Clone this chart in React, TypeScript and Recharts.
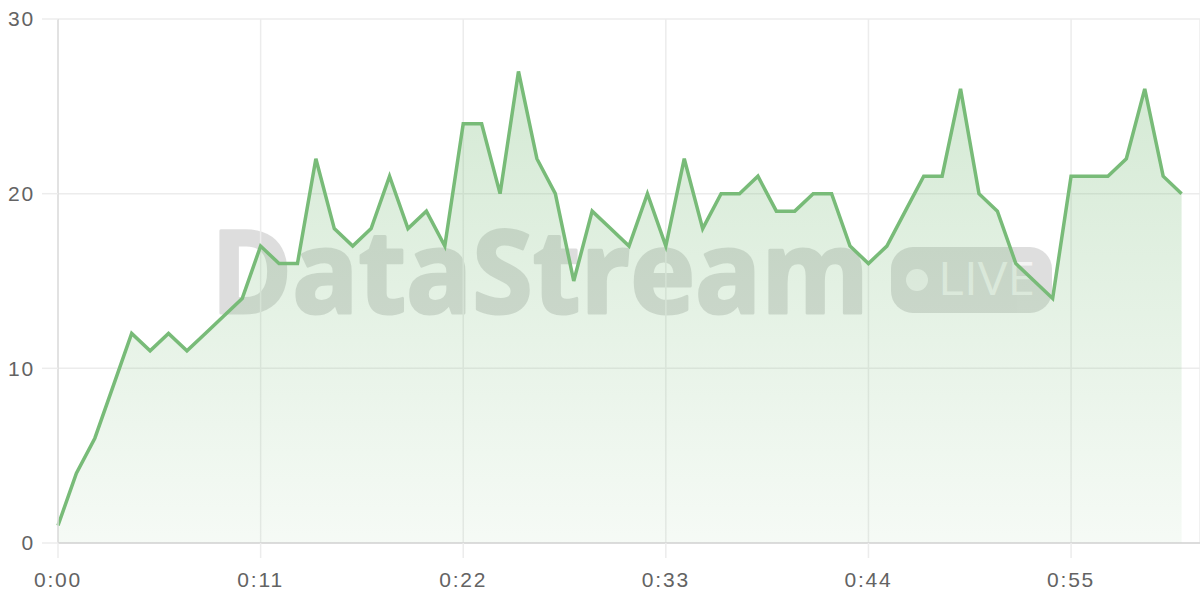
import { AreaChart, Area, XAxis, YAxis, CartesianGrid } from 'recharts';

// seconds since start, one reading per second
const seconds: number[] = [
    0, 1, 2, 3, 4, 5, 6, 7, 8, 9,
    10, 11, 12, 13, 14, 15, 16, 17, 18, 19,
    20, 21, 22, 23, 24, 25, 26, 27, 28, 29,
    30, 31, 32, 33, 34, 35, 36, 37, 38, 39,
    40, 41, 42, 43, 44, 45, 46, 47, 48, 49,
    50, 51, 52, 53, 54, 55, 56, 57, 58, 59,
    60, 61,
];

const values: number[] = [
    1, 4, 6, 9, 12, 11, 12, 11, 12, 13,
    14, 17, 16, 16, 22, 18, 17, 18, 21, 18,
    19, 17, 24, 24, 20, 27, 22, 20, 15, 19,
    18, 17, 20, 17, 22, 18, 20, 20, 21, 19,
    19, 20, 20, 17, 16, 17, 19, 21, 21, 26,
    20, 19, 16, 15, 14, 21, 21, 21, 22, 26,
    21, 20,
];

const xTicks: number[] = [0, 11, 22, 33, 44, 55];
const yTicks: number[] = [0, 10, 20, 30];

const data = seconds.map((t, i) => ({ t, value: values[i] }));

const fmtTime = (s: number) => `${Math.floor(s / 60)}:${String(s % 60).padStart(2, '0')}`;

const GREEN = '#78bb78';
const tickStyle = {
    fontFamily: 'Liberation Sans, Arial, sans-serif',
    fontSize: 21,
    fill: '#636363',
    letterSpacing: 1.8,
};

const Watermark = () => (
    <svg width={1200} height={600} style={{ position: 'absolute', left: 0, top: 0 }}>
        <g opacity={0.13}>
            <text
                x={211}
                y={313}
                textLength={658}
                lengthAdjust="spacingAndGlyphs"
                fontFamily="Open Sans, sans-serif"
                fontWeight={700}
                fontSize={114}
                fill="#000"
                stroke="#000"
                strokeWidth={3}
                strokeLinejoin="round"
            >
                DataStream
            </text>
            <rect x={891} y={247} width={161} height={66} rx={22} fill="#000" />
        </g>
        <circle cx={917} cy={280} r={11} fill="rgba(255,255,255,0.7)" />
        <text
            x={938}
            y={295}
            textLength={97}
            lengthAdjust="spacingAndGlyphs"
            fontFamily="Open Sans, sans-serif"
            fontSize={45}
            fill="rgba(255,255,255,0.7)"
        >
            LIVE
        </text>
    </svg>
);

export default function App() {
    return (
        <div style={{ position: 'absolute', left: 0, top: 0, width: 1200, height: 600, background: '#fff' }}>
            <Watermark />
            <div style={{ position: 'absolute', left: 0, top: 0 }}>
                <AreaChart width={1200} height={600} data={data} margin={{ top: 19, right: 0, bottom: 0, left: 0 }}>
                    <defs>
                        <linearGradient id="fillGreen" x1="0" y1="0" x2="0" y2="1">
                            <stop offset="0%" stopColor={GREEN} stopOpacity={0.32} />
                            <stop offset="100%" stopColor={GREEN} stopOpacity={0.07} />
                        </linearGradient>
                    </defs>
                    <CartesianGrid stroke="#ececec" strokeWidth={1.5} />
                    <XAxis
                        dataKey="t"
                        type="number"
                        domain={[0, 62]}
                        ticks={xTicks}
                        tickFormatter={fmtTime}
                        height={57}
                        tickSize={15}
                        tickMargin={14}
                        tick={tickStyle}
                        tickLine={{ stroke: '#ececec', strokeWidth: 1.5 }}
                        axisLine={{ stroke: '#d4d4d4', strokeWidth: 1.5 }}
                    />
                    <YAxis
                        domain={[0, 30]}
                        ticks={yTicks}
                        width={58}
                        tickSize={16}
                        tickMargin={7}
                        tick={tickStyle}
                        tickLine={{ stroke: '#ececec', strokeWidth: 1.5 }}
                        axisLine={{ stroke: '#dcdcdc', strokeWidth: 1.5 }}
                    />
                    <Area
                        type="linear"
                        dataKey="value"
                        stroke={GREEN}
                        strokeWidth={3.5}
                        fill="url(#fillGreen)"
                        fillOpacity={1}
                        dot={false}
                        activeDot={false}
                        isAnimationActive={false}
                    />
                </AreaChart>
            </div>
        </div>
    );
}
